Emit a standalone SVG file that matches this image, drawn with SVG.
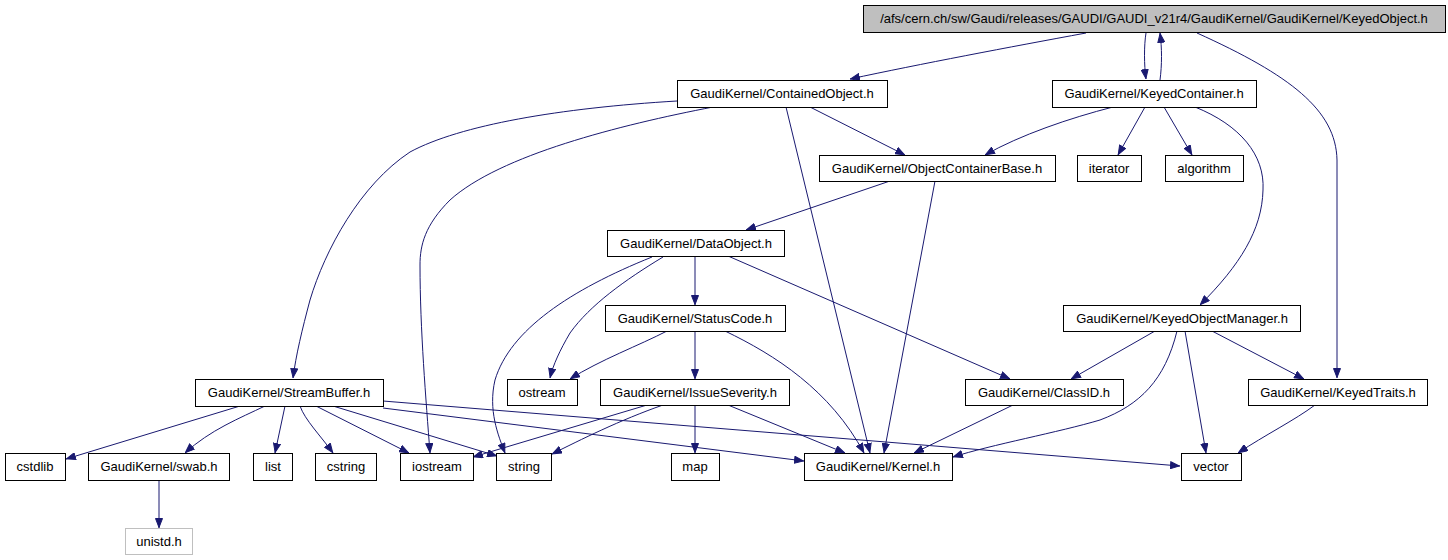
<svg xmlns="http://www.w3.org/2000/svg" width="1448" height="560" viewBox="0 0 1448 560">
<style>
.n rect{fill:#fff;stroke:#000;stroke-width:1}
.n text{font-family:"Liberation Sans",Arial,sans-serif;font-size:13px;fill:#000;text-anchor:middle}
#root rect{fill:#bfbfbf}
#unistd rect{stroke:#bfbfbf}
.e path{fill:none;stroke:#191970;stroke-width:1;marker-end:url(#a)}
</style>
<defs>
<marker id="a" viewBox="0 0 10 8" refX="10" refY="4" markerWidth="10" markerHeight="8" markerUnits="userSpaceOnUse" orient="auto">
<path d="M0.5,0.5 L9.5,4 L0.5,7.5 Z" fill="#191970" stroke="#191970" stroke-width="1"/>
</marker>
</defs>
<rect width="1448" height="560" fill="#fff"/>
<g class="e" id="edges">
<path d="M1086,33 C1010,47 920,64 850,79"/>
<path d="M1146,33 C1144,45 1144,65 1146,79"/>
<path d="M1160,80 C1162,65 1162,48 1160,33"/>
<path d="M1197,33 C1290,75 1336,110 1337,160 L1337,378"/>
<path d="M677,101 C560,108 460,125 410,152 C360,185 325,250 310,300 C302,330 296,355 293,378"/>
<path d="M713,107 C620,125 500,155 450,200 C425,225 420,245 420,265 C420,330 426,400 430,453"/>
<path d="M810,107 L905,155"/>
<path d="M786,107 L870,453"/>
<path d="M1113,107 C1070,118 1020,135 985,155"/>
<path d="M1145,107 L1118,155"/>
<path d="M1164,107 L1192,155"/>
<path d="M1195,107 C1240,125 1265,155 1263,190 C1262,230 1240,265 1200,305"/>
<path d="M890,181 L746,230"/>
<path d="M935,181 L884,453"/>
<path d="M695,256 L695,305"/>
<path d="M728,256 L1010,379"/>
<path d="M652,257 C570,290 510,330 495,380 C488,410 498,435 505,453"/>
<path d="M663,257 C625,280 590,305 570,333 C560,350 553,365 550,378"/>
<path d="M667,331 C640,345 600,360 570,379"/>
<path d="M695,331 L695,379"/>
<path d="M725,331 C775,355 830,390 864,453"/>
<path d="M647,405 L473,457"/>
<path d="M663,405 C620,420 580,440 552,454"/>
<path d="M695,405 L695,453"/>
<path d="M728,405 L845,453"/>
<path d="M240,406 L66,459"/>
<path d="M265,406 C240,418 210,430 185,453"/>
<path d="M285,406 L275,453"/>
<path d="M300,406 C305,420 320,435 333,453"/>
<path d="M316,406 L409,453"/>
<path d="M333,406 L497,456"/>
<path d="M383,408 L804,461"/>
<path d="M383,401 L1180,466"/>
<path d="M1013,405 L914,453"/>
<path d="M1155,331 L1071,379"/>
<path d="M1177,331 C1165,380 1140,405 1100,420 C1060,432 990,445 953,457"/>
<path d="M1185,331 L1206,453"/>
<path d="M1212,331 L1304,379"/>
<path d="M1315,405 C1295,420 1265,435 1238,453"/>
<path d="M159,480 L159,528"/>
</g>
<g class="n" id="root"><rect x="863.5" y="5.5" width="582" height="27"/><text x="1154" y="23">/afs/cern.ch/sw/Gaudi/releases/GAUDI/GAUDI_v21r4/GaudiKernel/GaudiKernel/KeyedObject.h</text></g>
<g class="n" id="containedobject"><rect x="677.5" y="80.5" width="210" height="27"/><text x="782" y="98">GaudiKernel/ContainedObject.h</text></g>
<g class="n" id="keyedcontainer"><rect x="1052.5" y="80.5" width="204" height="27"/><text x="1154" y="98">GaudiKernel/KeyedContainer.h</text></g>
<g class="n" id="objectcontainerbase"><rect x="819.5" y="155.5" width="236" height="26"/><text x="937" y="173">GaudiKernel/ObjectContainerBase.h</text></g>
<g class="n" id="iterator"><rect x="1077.5" y="155.5" width="64" height="26"/><text x="1109" y="173">iterator</text></g>
<g class="n" id="algorithm"><rect x="1165.5" y="155.5" width="78" height="26"/><text x="1204" y="173">algorithm</text></g>
<g class="n" id="dataobject"><rect x="607.5" y="230.5" width="177" height="26"/><text x="696" y="248">GaudiKernel/DataObject.h</text></g>
<g class="n" id="statuscode"><rect x="605.5" y="305.5" width="180" height="26"/><text x="695" y="323">GaudiKernel/StatusCode.h</text></g>
<g class="n" id="keyedobjectmanager"><rect x="1063.5" y="305.5" width="237" height="26"/><text x="1182" y="323">GaudiKernel/KeyedObjectManager.h</text></g>
<g class="n" id="streambuffer"><rect x="195.5" y="379.5" width="188" height="27"/><text x="289" y="397">GaudiKernel/StreamBuffer.h</text></g>
<g class="n" id="ostream"><rect x="507.5" y="379.5" width="70" height="26"/><text x="542" y="397">ostream</text></g>
<g class="n" id="issueseverity"><rect x="600.5" y="379.5" width="189" height="26"/><text x="695" y="397">GaudiKernel/IssueSeverity.h</text></g>
<g class="n" id="classid"><rect x="965.5" y="379.5" width="158" height="26"/><text x="1044" y="397">GaudiKernel/ClassID.h</text></g>
<g class="n" id="keyedtraits"><rect x="1248.5" y="379.5" width="179" height="26"/><text x="1338" y="397">GaudiKernel/KeyedTraits.h</text></g>
<g class="n" id="cstdlib"><rect x="5.5" y="453.5" width="60" height="27"/><text x="35" y="471">cstdlib</text></g>
<g class="n" id="swab"><rect x="88.5" y="453.5" width="141" height="27"/><text x="159" y="471">GaudiKernel/swab.h</text></g>
<g class="n" id="list"><rect x="253.5" y="453.5" width="39" height="27"/><text x="273" y="471">list</text></g>
<g class="n" id="cstring"><rect x="315.5" y="453.5" width="61" height="27"/><text x="346" y="471">cstring</text></g>
<g class="n" id="iostream"><rect x="400.5" y="453.5" width="73" height="27"/><text x="437" y="471">iostream</text></g>
<g class="n" id="string"><rect x="496.5" y="453.5" width="55" height="27"/><text x="524" y="471">string</text></g>
<g class="n" id="map"><rect x="671.5" y="453.5" width="48" height="27"/><text x="695" y="471">map</text></g>
<g class="n" id="kernel"><rect x="804.5" y="453.5" width="148" height="27"/><text x="878" y="471">GaudiKernel/Kernel.h</text></g>
<g class="n" id="vector"><rect x="1181.5" y="453.5" width="60" height="27"/><text x="1211" y="471">vector</text></g>
<g class="n" id="unistd"><rect x="125.5" y="528.5" width="67" height="26"/><text x="159" y="546">unistd.h</text></g>
</svg>
